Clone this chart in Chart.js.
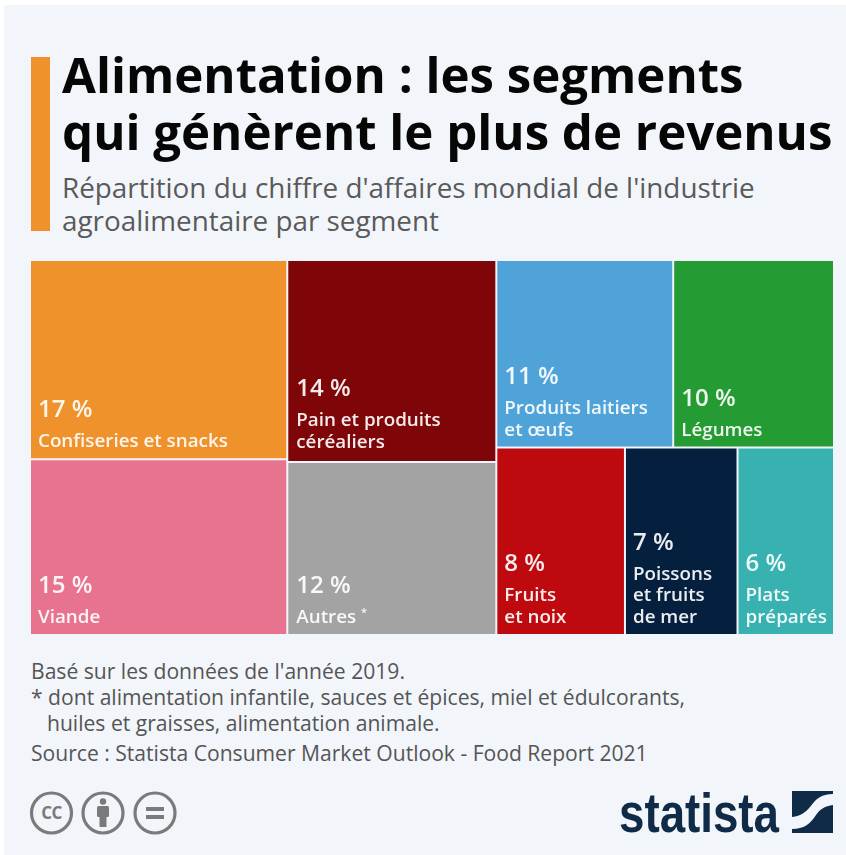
<!DOCTYPE html>
<html lang="fr">
<head>
<meta charset="utf-8">
<title>Alimentation : les segments qui génèrent le plus de revenus</title>
<script src="https://cdn.jsdelivr.net/npm/chart.js@4/dist/chart.umd.min.js"></script>
<style>
html,body{margin:0;padding:0;background:#fff;}
#page{position:relative;width:846px;height:855px;overflow:hidden;background:#fff;font-family:"Open Sans",sans-serif;}
#panel{position:absolute;left:4px;top:5px;right:0;bottom:0;background:#f2f6fa;}
.t{position:absolute;white-space:nowrap;line-height:1;}
.title{left:62px;font-size:49.2px;font-weight:700;color:#060606;}
.sub{left:62px;font-size:27.85px;color:#5a5a5a;}
.note{font-size:21.1px;color:#555;}
#bar{position:absolute;left:31px;top:57px;width:19px;height:174px;background:#f0922b;}
#wrap{position:absolute;left:30px;top:260px;width:804px;height:375px;}
#logo{position:absolute;left:619px;top:785px;font-family:"Liberation Sans Narrow","Liberation Sans",sans-serif;font-weight:700;font-size:56px;line-height:1;color:#0f2b47;transform:scaleX(.816);transform-origin:left top;}
svg{position:absolute;}
</style>
</head>
<body>
<div id="page">
  <div id="panel"></div>
  <div id="bar"></div>
  <div class="t title" style="top:49px">Alimentation : les segments</div>
  <div class="t title" style="top:106px">qui génèrent le plus de revenus</div>
  <div class="t sub" style="top:174px">Répartition du chiffre d'affaires mondial de l'industrie</div>
  <div class="t sub" style="top:207px">agroalimentaire par segment</div>
  <div id="wrap"><canvas id="chart" width="804" height="375"></canvas></div>
  <div class="t note" style="left:31px;top:660px">Basé sur les données de l'année 2019.</div>
  <div class="t note" style="left:31px;top:686px">* dont alimentation infantile, sauces et épices, miel et édulcorants,</div>
  <div class="t note" style="left:47px;top:712px">huiles et graisses, alimentation animale.</div>
  <div class="t note" style="left:31px;top:742px">Source : Statista Consumer Market Outlook - Food Report 2021</div>

  <svg style="left:28px;top:790px" width="150" height="46" viewBox="0 0 150 46">
    <g fill="none" stroke="#7a7a7a" stroke-width="3.2">
      <circle cx="23.5" cy="23" r="20"/><circle cx="75" cy="23" r="20"/><circle cx="127" cy="23" r="20"/>
    </g>
    <text x="23.5" y="29" text-anchor="middle" font-family="Open Sans" font-weight="700" font-size="17" letter-spacing="-0.5" fill="#7a7a7a">CC</text>
    <g fill="#7a7a7a">
      <circle cx="75" cy="11.5" r="3.2"/>
      <rect x="69" y="16" width="12" height="11" rx="1.5"/>
      <rect x="71.5" y="26" width="7" height="11"/>
      <rect x="118" y="17" width="18" height="4"/>
      <rect x="118" y="25" width="18" height="4"/>
    </g>
  </svg>

  <div id="logo">statista</div>
  <svg style="left:792px;top:791px" width="42" height="42" viewBox="0 0 42 42">
    <path fill="#0f2b47" d="M0 0H41V3C29 3 24 8 18 16C14 21 9 25 0 26Z"/>
    <path fill="#0f2b47" d="M41 14V42H0V38C12 38 18 33 24 24C28 18 33 15 41 14Z"/>
  </svg>
</div>

<script>
// Data (share of revenue, %)
const categories = ["Confiseries et snacks", "Viande", "Pain et produits céréaliers", "Autres *",
                    "Produits laitiers et œufs", "Légumes", "Fruits et noix", "Poissons et fruits de mer", "Plats préparés"];
const shares = [17, 15, 14, 12, 11, 10, 8, 7, 6];
const labelLines = [["Confiseries et snacks"], ["Viande"], ["Pain et produits", "céréaliers"], ["Autres *"],
                    ["Produits laitiers", "et œufs"], ["Légumes"], ["Fruits", "et noix"], ["Poissons", "et fruits", "de mer"], ["Plats", "préparés"]];
const colours = ["#f0922b", "#e8738f", "#7e0508", "#a3a3a3", "#4fa3d8", "#259b34", "#be0a0e", "#05203f", "#38b2b0"];
// Treemap structure: columns -> rows -> indexes into the arrays above
const columns = [[[0], [1]], [[2], [3]], [[4, 5], [6, 7, 8]]];

const sum = idx => idx.reduce((a, i) => a + shares[i], 0);

// Slice-and-dice layout, in value units on scales 0..total
function layout() {
  const total = shares.reduce((a, b) => a + b, 0), out = [];
  let x = 0;
  for (const col of columns) {
    const colSum = sum(col.flat());
    let y = 0;
    for (const row of col) {
      const rowSum = sum(row), h = rowSum / colSum * total;
      let cx = x;
      for (const i of row) {
        const w = shares[i] / rowSum * colSum;
        out[i] = {x0: cx, x1: cx + w, y0: y, y1: y + h};
        cx += w;
      }
      y += h;
    }
    x += colSum;
  }
  return out;
}

// Treemap controller: library bar elements placed through the library's linear scales
class TreemapController extends Chart.BarController {
  updateElements(rects, start, count, mode) {
    const {x: xs, y: ys} = this.chart.scales, cells = layout(), gap = 1;
    for (let i = start; i < start + count; i++) {
      const c = cells[i];
      const l = xs.getPixelForValue(c.x0) + gap, r = xs.getPixelForValue(c.x1) - gap;
      const t = ys.getPixelForValue(c.y0) + gap, b = ys.getPixelForValue(c.y1) - gap;
      this.updateElement(rects[i], i, {
        horizontal: false, x: (l + r) / 2, y: t, base: b, width: r - l, height: b - t,
        borderSkipped: {top: false, right: false, bottom: false, left: false},
        enableBorderRadius: false, inflateAmount: 0,
        options: this.resolveDataElementOptions(i, mode)
      }, mode);
    }
  }
}
TreemapController.id = "treemap";
TreemapController.defaults = Chart.BarController.defaults;
TreemapController.overrides = {};
Chart.register(TreemapController);

const cellLabels = {
  id: "cellLabels",
  afterDatasetsDraw(chart) {
    const ctx = chart.ctx, els = chart.getDatasetMeta(0).data;
    const nameFont = '600 18.8px "Open Sans"', pctFont = '600 24px "Open Sans"';
    ctx.save();
    ctx.fillStyle = "rgba(255,255,255,0.92)";
    ctx.textAlign = "left";
    ctx.textBaseline = "alphabetic";
    els.forEach((el, i) => {
      const left = el.x - el.width / 2 + (i === 2 || i === 3 ? 8 : 7), lines = labelLines[i];
      let y = el.base - (i === 2 ? 13 : 11);
      for (let k = lines.length - 1; k >= 0; k--) {
        const star = lines[k].endsWith(" *");
        const text = star ? lines[k].slice(0, -1) : lines[k];
        ctx.font = nameFont;
        ctx.fillText(text, left, y);
        if (star) {
          const w = ctx.measureText(text).width;
          ctx.font = '600 11px "Open Sans"';
          ctx.fillText("*", left + w, y - 7);
        }
        if (k) y -= 21.7;
      }
      ctx.font = pctFont;
      ctx.fillText(shares[i] + " %", left, y - 30);
    });
    ctx.restore();
  }
};

new Chart(document.getElementById("chart"), {
  type: "treemap",
  data: {
    labels: categories,
    datasets: [{label: "Part du chiffre d'affaires (%)", data: shares, backgroundColor: colours, borderWidth: 0}]
  },
  options: {
    responsive: false,
    animation: false,
    layout: {padding: 0},
    scales: {
      x: {type: "linear", display: false, min: 0, max: 100},
      y: {type: "linear", display: false, min: 0, max: 100, reverse: true}
    },
    plugins: {legend: {display: false}, tooltip: {enabled: false}}
  },
  plugins: [cellLabels]
});
</script>
</body>
</html>
